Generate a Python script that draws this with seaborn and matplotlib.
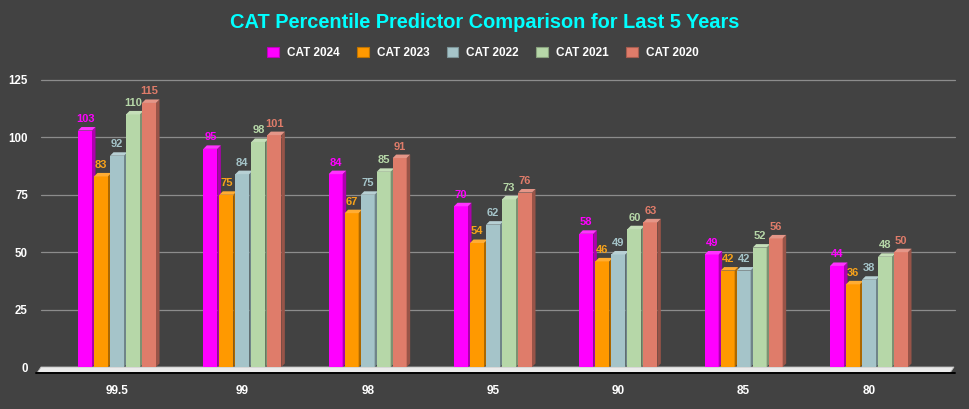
import numpy as np
import pandas as pd
import matplotlib
matplotlib.use("Agg")
import matplotlib.pyplot as plt
import matplotlib.transforms as mtransforms
from matplotlib.patches import Polygon, Patch
import matplotlib.colors as mcolors
import seaborn as sns

# ---------------- data ----------------
percentiles = ["99.5", "99", "98", "95", "90", "85", "80"]
years = ["CAT 2024", "CAT 2023", "CAT 2022", "CAT 2021", "CAT 2020"]
cat_2024 = [103, 95, 84, 70, 58, 49, 44]
cat_2023 = [83, 75, 67, 54, 46, 42, 36]
cat_2022 = [92, 84, 75, 62, 49, 42, 38]
cat_2021 = [110, 98, 85, 73, 60, 52, 48]
cat_2020 = [115, 101, 91, 76, 63, 56, 50]
y_ticks = [0, 25, 50, 75, 100, 125]

colors = ["#FF00FF", "#FF9900", "#A5C4C9", "#B6D7A8", "#DF7C6A"]
label_colors = ["#FF00FF", "#F7A21B", "#A5C4C9", "#B6D7A8", "#DF7C6A"]
BG = "#424242"

series = [cat_2024, cat_2023, cat_2022, cat_2021, cat_2020]
rows = []
for yr, vals in zip(years, series):
    for p, v in zip(percentiles, vals):
        rows.append({"Percentile": p, "Year": yr, "Value": v})
df = pd.DataFrame(rows)

sns.set_theme(style="dark")
plt.rcParams["font.family"] = ["Liberation Sans", "DejaVu Sans"]
plt.rcParams["font.weight"] = "bold"

W, H = 970, 409
fig = plt.figure(figsize=(W / 100, H / 100), dpi=100, facecolor=BG)
ax_l, ax_r, ax_t, ax_b = 37, 950, 80, 373
ax = fig.add_axes([ax_l / W, (H - ax_b) / H, (ax_r - ax_l) / W, (ax_b - ax_t) / H])
ax.set_facecolor(BG)

px_per_x = 125.33
slot = 16 / px_per_x
sns.barplot(data=df, x="Percentile", y="Value", hue="Year", order=percentiles,
            hue_order=years, palette=colors, width=slot * 5, legend=False,
            ax=ax, saturation=1, linewidth=0, zorder=3)

xlim = (-80 / px_per_x, 6 + 81 / px_per_x)
ax.set_xlim(*xlim)
px_per_y = (367 - 80) / 125.0
ylim = (-6 / px_per_y, 125)
ax.set_ylim(*ylim)

dx = 3.5 / px_per_x
dy = 3.5 / px_per_y

def shade(c, f):
    r, g, b = mcolors.to_rgb(c)
    return (r * f, g * f, b * f)

def tint(c, f):
    r, g, b = mcolors.to_rgb(c)
    return (r + (1 - r) * f, g + (1 - g) * f, b + (1 - b) * f)

for hi, cont in enumerate(ax.containers):
    col = colors[hi]
    for bar in cont:
        x0 = bar.get_x() + 1 / px_per_x
        w = 14 / px_per_x
        h = bar.get_height()
        z = 3 + x0
        bar.set_x(x0)
        bar.set_width(w)
        bar.set_zorder(z)
        side = Polygon([(x0 + w, 0), (x0 + w + dx, dy), (x0 + w + dx, h + dy), (x0 + w, h)],
                       closed=True, facecolor=shade(col, 0.68), edgecolor="none", zorder=z)
        top = Polygon([(x0, h), (x0 + w, h), (x0 + w + dx, h + dy), (x0 + dx, h + dy)],
                      closed=True, facecolor=tint(col, 0.2), edgecolor="none", zorder=z)
        ax.add_patch(side)
        ax.add_patch(top)
        ax.annotate(f"{int(h)}", (x0 + w / 2, h), xytext=(0, 8.3), textcoords="offset points",
                    ha="center", va="center", fontsize=8, fontweight="bold",
                    color=label_colors[hi], zorder=20, annotation_clip=False)

# gridlines (shifted like a 3D back wall)
blend = mtransforms.blended_transform_factory(ax.transAxes, ax.transData)
gx0 = 4 / (ax_r - ax_l)
gx1 = 1 + 5 / (ax_r - ax_l)
for t in y_ticks[1:]:
    ax.plot([gx0, gx1], [t, t], color="#8C8C8C", lw=0.9, transform=blend, zorder=1, clip_on=False)

# floor
fd = 4 / (ax_r - ax_l)
floor = Polygon([(0, ylim[0]), (1, ylim[0]), (1 + fd, 0), (fd, 0)], closed=True,
                facecolor="#EBEBEB", edgecolor="#BDBDBD", lw=0.6, transform=blend,
                zorder=2, clip_on=False)
ax.add_patch(floor)
ax.plot([-1 / (ax_r - ax_l), 1 + 5 / (ax_r - ax_l)], [ylim[0], ylim[0]], color="black", lw=1.4,
        transform=blend, zorder=2.5, clip_on=False)

for s in ax.spines.values():
    s.set_visible(False)
ax.grid(False)
ax.set_xlabel("")
ax.set_ylabel("")
ax.set_yticks(y_ticks)
ax.set_yticklabels([str(t) for t in y_ticks])
ax.tick_params(axis="y", length=0, pad=6.5, labelsize=8.3, labelcolor="white")
ax.tick_params(axis="x", direction="inout", length=8.6, width=1.1, color="black",
               pad=4, labelsize=8.5, labelcolor="white")
for lbl in ax.get_xticklabels() + ax.get_yticklabels():
    lbl.set_fontweight("bold")

fig.text(0.5, 1 - 22 / H, "CAT Percentile Predictor Comparison for Last 5 Years",
         ha="center", va="center", color="#00FFFF", fontsize=14.4, fontweight="bold")

handles = [Patch(facecolor=c, edgecolor=shade(c, 0.75), lw=0.8) for c in colors]
leg = fig.legend(handles, years, loc="center", bbox_to_anchor=(483 / W, 1 - 53 / H), ncol=5,
                 frameon=False, fontsize=8.5, handlelength=1.0, handleheight=1.0,
                 handletextpad=0.68, columnspacing=1.45, borderaxespad=0)
for t in leg.get_texts():
    t.set_color("white")
    t.set_fontweight("bold")

fig.savefig("out.png", dpi=100, facecolor=BG)
